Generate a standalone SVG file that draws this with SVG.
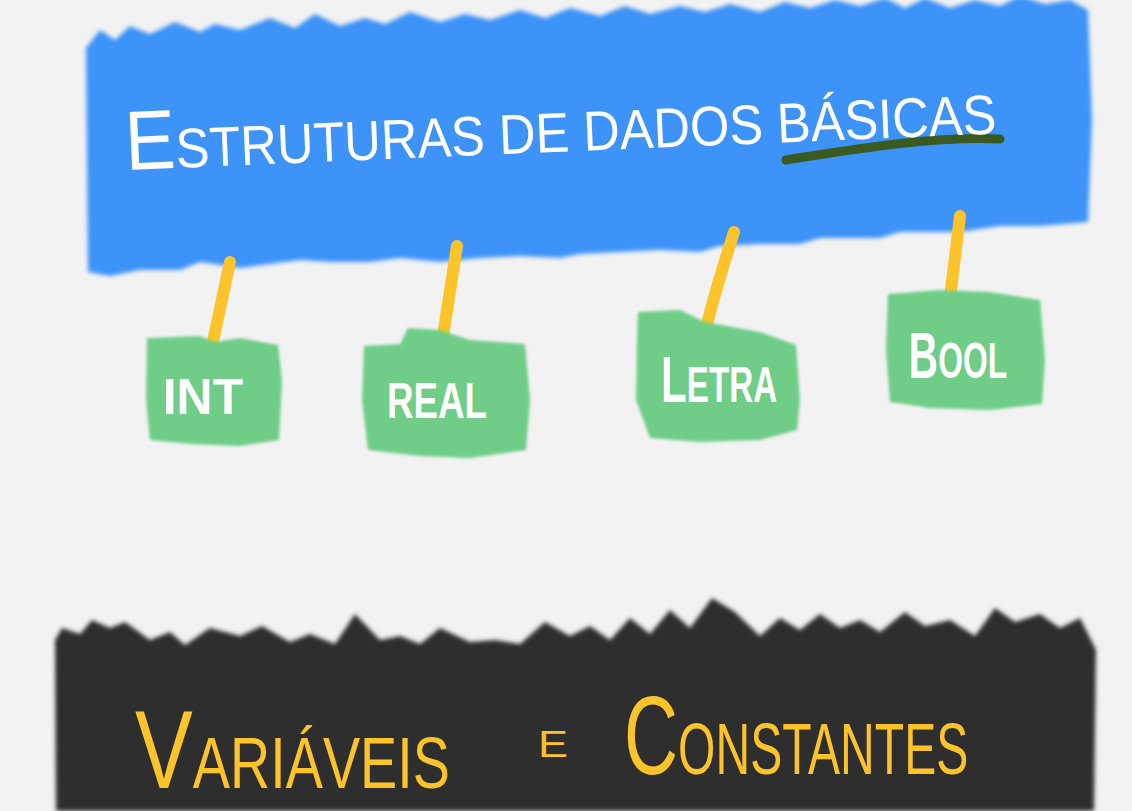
<svg xmlns="http://www.w3.org/2000/svg" width="1132" height="811" viewBox="0 0 1132 811">
<defs>
<filter id="soft" x="-5%" y="-10%" width="110%" height="120%"><feGaussianBlur stdDeviation="2.2"/></filter>
<filter id="soft2" x="-10%" y="-10%" width="120%" height="120%"><feGaussianBlur stdDeviation="1.8"/></filter>
<style>
.bg{fill:#f2f2f2}
.blue{fill:#3d93f8}
.dark{fill:#2f2f2f}
.green{fill:#6fcd88}
.link{fill:none;stroke:#fcc42a;stroke-width:12;stroke-linecap:round}
.title{fill:#ffffff;font-family:"Liberation Sans",Arial,sans-serif;font-size:56px}
.big{font-size:84px}
.lbl{fill:#ffffff;font-family:"Liberation Sans",Arial,sans-serif;font-size:50px;font-weight:bold}
.lbig{font-size:64px}
.foot{fill:#fcc42a;font-family:"Liberation Sans",Arial,sans-serif;font-size:72px}
.fbig{font-size:112px}
.small{font-size:36px}
</style>
</defs>
<rect class="bg" x="0" y="0" width="1132" height="811"/>

<g id="header">
<path class="blue" filter="url(#soft)" d="M86,48 L100,30 L115,40 L130,26 L150,34 L175,22 L200,32 L215,24 L240,30 L270,18 L295,28 L315,14 L340,26 L365,18 L385,24 L410,12 L440,22 L465,14 L490,20 L520,10 L545,18 L570,8 L600,16 L625,6 L650,14 L680,6 L705,12 L730,4 L760,12 L785,2 L810,8 L835,0 L860,6 L885,-2 L905,8 L925,-2 L950,8 L975,0 L1000,6 L1020,-4 L1045,4 L1070,0 L1088,10 L1092,120 L1088,222 L1040,226 L1000,226 L960,232 L900,232 L880,238 L820,238 L800,244 L760,244 L720,246 L700,252 L660,250 L620,252 L580,254 L560,258 L520,256 L480,258 L440,262 L400,258 L370,262 L330,262 L300,260 L270,264 L240,268 L200,262 L180,270 L140,270 L110,276 L88,272 Z"/>
<path d="M786,160 C850,150 930,136 1000,139" fill="none" stroke="#3b5a1f" stroke-width="9" stroke-linecap="round"/>
<text class="title" transform="rotate(-2.4 126 170) translate(126 170) scale(0.904 1)" x="0" y="0"><tspan class="big">E</tspan>STRUTURAS DE DADOS BÁSICAS</text>
</g>

<g id="connectors">
<path class="link" d="M230,262 L212,346"/>
<path class="link" d="M457,246 L442,342"/>
<path class="link" d="M734,232 C722,270 712,300 704,338"/>
<path class="link" d="M960,216 L949,306"/>
</g>

<g id="node-int">
<path class="green" filter="url(#soft2)" d="M147,338 L200,336 L215,342 L240,338 L278,345 L282,380 L279,440 L240,446 L190,444 L150,440 L146,400 Z"/>
<text class="lbl" x="203" y="414" text-anchor="middle">INT</text>
</g>

<g id="node-real">
<path class="green" filter="url(#soft2)" d="M364,346 L400,344 L408,328 L440,330 L470,340 L525,344 L530,400 L526,450 L470,458 L420,456 L368,450 L362,400 Z"/>
<text class="lbl" transform="translate(437 418) scale(0.735 1)" x="0" y="0" text-anchor="middle">REAL</text>
</g>

<g id="node-letra">
<path class="green" filter="url(#soft2)" d="M638,312 L680,310 L705,322 L760,332 L796,345 L800,400 L797,430 L760,440 L700,442 L650,438 L636,400 L637,340 Z"/>
<text class="lbl" transform="translate(719 402) scale(0.663 1)" x="0" y="0" text-anchor="middle"><tspan class="lbig">L</tspan>ETRA</text>
</g>

<g id="node-bool">
<path class="green" filter="url(#soft2)" d="M888,294 L940,290 L990,292 L1040,300 L1045,360 L1042,404 L990,410 L930,408 L890,402 L886,350 Z"/>
<text class="lbl" transform="translate(958 378) scale(0.636 1)" x="0" y="0" text-anchor="middle"><tspan class="lbig">B</tspan>OOL</text>
</g>

<g id="footer">
<path class="dark" filter="url(#soft)" d="M55,640 L62,628 L80,634 L92,620 L110,628 L125,622 L150,640 L170,632 L185,645 L210,628 L240,636 L262,626 L290,642 L310,634 L335,644 L355,614 L380,640 L400,636 L420,644 L440,628 L470,642 L495,640 L520,644 L545,622 L570,636 L590,626 L610,640 L630,618 L650,634 L670,610 L690,628 L712,598 L735,612 L760,636 L780,618 L800,630 L820,614 L840,628 L860,620 L880,632 L905,612 L925,626 L950,620 L975,636 L995,608 L1015,622 L1040,614 L1060,628 L1080,618 L1096,650 L1094,811 L56,811 Z"/>
<text class="foot" transform="translate(135 788) scale(0.774 1)" x="0" y="0"><tspan class="fbig">V</tspan>ARIÁVEIS</text>
<text class="foot small" x="538" y="757" textLength="30" lengthAdjust="spacingAndGlyphs">E</text>
<text class="foot" transform="translate(624 774) scale(0.668 1)" x="0" y="0"><tspan class="fbig">C</tspan>ONSTANTES</text>
</g>
</svg>
